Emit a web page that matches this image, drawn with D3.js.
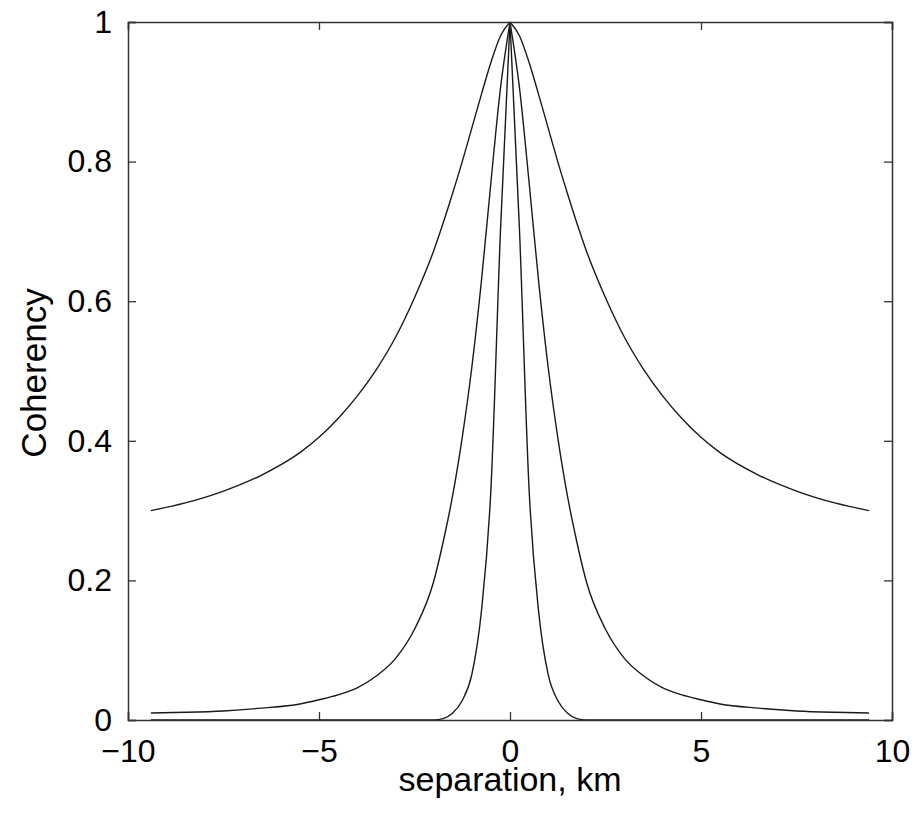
<!DOCTYPE html>
<html>
<head>
<meta charset="utf-8">
<script src="https://cdn.jsdelivr.net/npm/d3@7"></script>
<style>
  body { margin: 0; background: #fff; }
  text { font-family: "Liberation Sans", Arial, sans-serif; fill: #000; }
</style>
</head>
<body>
<svg></svg>
<script>
const width = 916;
const height = 813;
const margin = {top: 22, right: 24, bottom: 93, left: 128};

// separation (km) shared by all three curves
const separation = [-9.4, -8.5, -7.5, -6.5, -5.5, -5, -4.5, -4, -3.5, -3, -2.5, -2, -1.75, -1.5, -1.25, -1, -0.75, -0.5, -0.25, 0,
                    0.25, 0.5, 0.75, 1, 1.25, 1.5, 1.75, 2, 2.5, 3, 3.5, 4, 4.5, 5, 5.5, 6.5, 7.5, 8.5, 9.4];
const wide = [0.300, 0.311, 0.328, 0.351, 0.383, 0.405, 0.432, 0.464, 0.502, 0.548, 0.605, 0.672, 0.712, 0.755, 0.800, 0.848, 0.896, 0.942, 0.980, 1.0,
              0.980, 0.942, 0.896, 0.848, 0.800, 0.755, 0.712, 0.672, 0.605, 0.548, 0.502, 0.464, 0.432, 0.405, 0.383, 0.351, 0.328, 0.311, 0.300];
const middle = [0.010, 0.011, 0.013, 0.017, 0.023, 0.029, 0.036, 0.046, 0.063, 0.088, 0.130, 0.198, 0.255, 0.322, 0.405, 0.505, 0.628, 0.770, 0.905, 1.0,
                0.905, 0.770, 0.628, 0.505, 0.405, 0.322, 0.255, 0.198, 0.130, 0.088, 0.063, 0.046, 0.036, 0.029, 0.023, 0.017, 0.013, 0.011, 0.010];
const narrow = [0, 0, 0, 0, 0, 0, 0, 0, 0, 0, 0, 0, 0.002, 0.010, 0.028, 0.065, 0.155, 0.330, 0.700, 1.0,
                0.700, 0.330, 0.155, 0.065, 0.028, 0.010, 0.002, 0, 0, 0, 0, 0, 0, 0, 0, 0, 0, 0, 0];
const xTicks = [-10, -5, 0, 5, 10];
const yTicks = [0, 0.2, 0.4, 0.6, 0.8, 1];

const svg = d3.select('svg')
    .attr('width', width).attr('height', height);

const x = d3.scaleLinear().domain([-10, 10]).range([margin.left, width - margin.right]);
const y = d3.scaleLinear().domain([0, 1]).range([height - margin.bottom, margin.top]);

const fmt = d => d < 0 ? '\u2212' + Math.abs(d) : String(d);

// curves: each half drawn on its own so the peak at 0 stays sharp
const line = d3.line()
    .x(d => x(d[0]))
    .y(d => y(d[1]))
    .curve(d3.curveMonotoneX);

const halves = [];
[wide, middle, narrow].forEach(series => {
    const pts = separation.map((s, i) => [s, series[i]]);
    halves.push(pts.filter(p => p[0] <= 0));
    halves.push(pts.filter(p => p[0] >= 0));
});

svg.append('g').selectAll('path')
    .data(halves)
    .enter().append('path')
    .attr('d', line)
    .style('fill', 'none')
    .style('stroke', '#1a1a1a')
    .style('stroke-width', 1.4);

// axes with inward ticks on every side
const tickLen = 8;
const frame = svg.append('g');

frame.append('g')
    .attr('transform', `translate(0,${y(0)})`)
    .call(d3.axisBottom(x).tickValues(xTicks).tickSize(-tickLen).tickPadding(19).tickFormat(fmt));
frame.append('g')
    .attr('transform', `translate(0,${y(1)})`)
    .call(d3.axisTop(x).tickValues(xTicks).tickSize(-tickLen).tickFormat(''));
frame.append('g')
    .attr('transform', `translate(${x(-10)},0)`)
    .call(d3.axisLeft(y).tickValues(yTicks).tickSize(-tickLen).tickPadding(16).tickFormat(fmt));
frame.append('g')
    .attr('transform', `translate(${x(10)},0)`)
    .call(d3.axisRight(y).tickValues(yTicks).tickSize(-tickLen).tickFormat(''));

frame.selectAll('.domain').style('stroke', '#333').style('stroke-width', 1.5);
frame.selectAll('.tick line').style('stroke', '#333').style('stroke-width', 1.3);
frame.selectAll('text')
    .style('font-family', '"Liberation Sans", Arial, sans-serif')
    .style('font-size', '32px')
    .style('fill', '#000');

// labels
svg.append('text')
    .attr('x', x(0))
    .attr('y', 791)
    .attr('text-anchor', 'middle')
    .style('font-size', '34px')
    .text('separation, km');

svg.append('text')
    .attr('transform', `translate(46,${(y(0) + y(1)) / 2 + 2}) rotate(-90)`)
    .attr('text-anchor', 'middle')
    .style('font-size', '35px')
    .text('Coherency');
</script>
</body>
</html>
